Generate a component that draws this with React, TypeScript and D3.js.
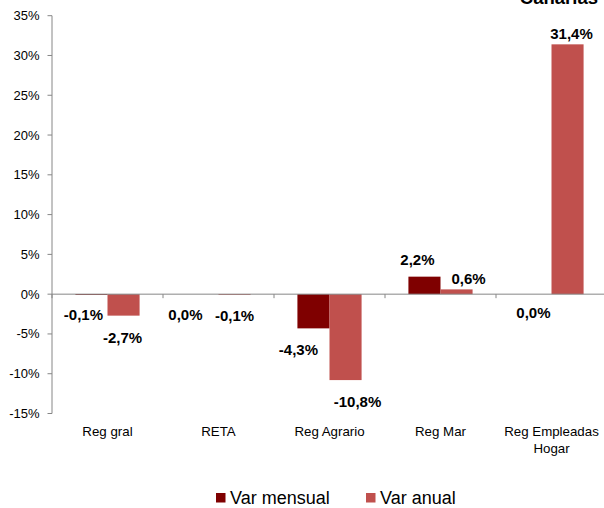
import React from "react";
import * as d3 from "d3";

const categories = ["Reg gral", "RETA", "Reg Agrario", "Reg Mar", "Reg Empleadas Hogar"];
const categoryLines = [["Reg gral"], ["RETA"], ["Reg Agrario"], ["Reg Mar"], ["Reg Empleadas", "Hogar"]];
const seriesNames = ["Var mensual", "Var anual"];
const varMensual = [-0.1, 0.0, -4.3, 2.2, 0.0];
const varAnual = [-2.7, -0.1, -10.8, 0.6, 31.4];
const yTicks = [-15, -10, -5, 0, 5, 10, 15, 20, 25, 30, 35];
const title = "Canarias";

// layout (label nudges as in the original Excel chart)
const labelDx = [[-8, -17, -15, -7, -2], [-1, 0, 12, 12, 4]];
const labelDy = [[20, 21, 21, -16.5, 19], [22, 21, 22, -11, -11]];
const colors = ["#7f0000", "#c0504d"];
const FONT = "Arial, 'Liberation Sans', Helvetica, sans-serif";

export default function App() {
  const W = 604, H = 508;
  const left = 52, right = 607;
  const y = d3.scaleLinear().domain([-15, 35]).range([413.5, 15.7]);
  const x0 = d3.scaleBand<string>().domain(categories).range([left, right]).padding(0);
  const bw = x0.bandwidth();
  const x1 = d3.scaleBand<string>().domain(seriesNames).range([0, bw]).paddingInner(0).paddingOuter(0.73);
  const series = [varMensual, varAnual];
  const fmt = (v: number) => d3.format(".1f")(v).replace(".", ",").replace("\u2212", "-") + "%";
  const y0 = y(0);
  const axisColor = "#868686";

  return (
    <svg width={W} height={H} style={{ position: "absolute", left: 0, top: 0, background: "#fff" }} fontFamily={FONT}>
      <rect x={0} y={0} width={W} height={H} fill="#fff" />
      <text x={598} y={3.5} textAnchor="end" fontSize={18.5} fontWeight="bold" fill="#000">{title}</text>
      {/* y axis */}
      <line x1={left} x2={left} y1={y(35)} y2={y(-15)} stroke={axisColor} strokeWidth={1} />
      {yTicks.map((t) => (
        <g key={t}>
          <line x1={left - 4.5} x2={left} y1={y(t)} y2={y(t)} stroke={axisColor} />
          <text x={39.5} y={y(t)} dy="0.35em" textAnchor="end" fontSize={13} fill="#000">{t + "%"}</text>
        </g>
      ))}
      {/* bars */}
      {series.map((vals, si) =>
        vals.map((v, ci) => {
          const bx = (x0(categories[ci]) as number) + (x1(seriesNames[si]) as number);
          const yv = y(v);
          return (
            <rect key={`b${si}-${ci}`} x={bx} y={Math.min(yv, y0)} width={x1.bandwidth()} height={Math.abs(yv - y0)} fill={colors[si]} />
          );
        })
      )}
      {/* x axis */}
      <line x1={left} x2={W} y1={y0} y2={y0} stroke={axisColor} strokeWidth={1} />
      {categories.map((c) => (
        <line key={c} x1={x0(c) as number} x2={x0(c) as number} y1={y0} y2={y0 + 4} stroke={axisColor} />
      ))}
      <line x1={right} x2={right} y1={y0} y2={y0 + 4} stroke={axisColor} />
      {categories.map((c, ci) => (
        <text key={c} x={(x0(c) as number) + bw / 2} y={436} textAnchor="middle" fontSize={13.3} fill="#000">
          {categoryLines[ci].map((l, li) => (
            <tspan key={li} x={(x0(c) as number) + bw / 2} dy={li === 0 ? 0 : 17}>{l}</tspan>
          ))}
        </text>
      ))}
      {/* labels */}
      {series.map((vals, si) =>
        vals.map((v, ci) => {
          const cx = (x0(categories[ci]) as number) + (x1(seriesNames[si]) as number) + x1.bandwidth() / 2;
          return (
            <text key={`l${si}-${ci}`} x={cx + labelDx[si][ci]} y={y(v) + labelDy[si][ci]} dy="0.35em" textAnchor="middle" fontSize={15} fontWeight="bold" fill="#000">
              {fmt(v)}
            </text>
          );
        })
      )}
      {/* legend */}
      {seriesNames.map((s, si) => {
        const lx = si === 0 ? 216 : 366;
        return (
          <g key={s}>
            <rect x={lx} y={493} width={9.5} height={9.5} fill={colors[si]} />
            <text x={lx + 14} y={498} dy="0.35em" fontSize={18} fill="#000">{s}</text>
          </g>
        );
      })}
    </svg>
  );
}
